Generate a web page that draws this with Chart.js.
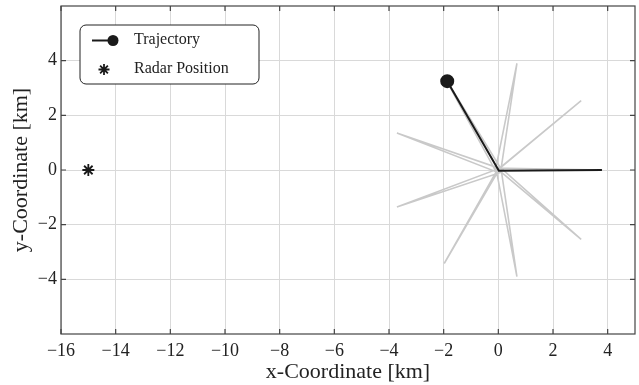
<!DOCTYPE html>
<html>
<head>
<meta charset="utf-8">
<script src="https://cdn.jsdelivr.net/npm/chart.js@4/dist/chart.umd.min.js"></script>
<style>
  body { margin: 0; background: #fff; }
  #wrap { width: 639px; height: 385px; position: relative; }
</style>
</head>
<body>
<div id="wrap"><canvas id="chart"></canvas></div>
<script>
// past path (grey spokes), km
const pastX = [3.80, 0.09, -1.98, -0.08, -1.98, 0.07, 3.03, -0.09, -3.71, 0.10, 0.68, -0.09, 0.68, 0.08, -3.71, 0.09, 3.03, -0.07, 3.80];
const pastY = [0.00, 0.06, 3.42, -0.07, -3.42, 0.09, 2.54, -0.06, 1.35, 0.04, -3.90, 0.07, 3.90, -0.09, -1.35, 0.08, -2.54, 0.07, 0.00];
// latest part of the trajectory (black), ends at current position
const trajX = [3.79, 0.02, -1.87];
const trajY = [0.00, -0.03, 3.25];
const radarX = [-15];
const radarY = [0];
const xTicks = [-16, -14, -12, -10, -8, -6, -4, -2, 0, 2, 4];
const yTicks = [-4, -2, 0, 2, 4];

const serif = "'Liberation Serif', 'DejaVu Serif', serif";
const pts = (xs, ys) => xs.map((x, i) => ({x: x, y: ys[i]}));
const fmt = (v) => v < 0 ? '\u2212' + Math.abs(v) : String(v);

// frame with inward ticks on all four sides
const framePlugin = {
    id: 'frame',
    afterDatasetsDraw(chart) {
        const ctx = chart.ctx;
        const a = chart.chartArea;
        const sx = chart.scales.x, sy = chart.scales.y;
        ctx.save();
        ctx.strokeStyle = '#444';
        ctx.lineWidth = 1.2;
        ctx.strokeRect(a.left, a.top, a.right - a.left, a.bottom - a.top);
        ctx.beginPath();
        xTicks.forEach((v) => {
            let px = sx.getPixelForValue(v);
            ctx.moveTo(px, a.bottom); ctx.lineTo(px, a.bottom - 5);
            ctx.moveTo(px, a.top); ctx.lineTo(px, a.top + 5);
        });
        yTicks.forEach((v) => {
            let py = sy.getPixelForValue(v);
            ctx.moveTo(a.left, py); ctx.lineTo(a.left + 5, py);
            ctx.moveTo(a.right, py); ctx.lineTo(a.right - 5, py);
        });
        ctx.stroke();
        ctx.restore();
    }
};

// legend box inside the plot, top left
const legendPlugin = {
    id: 'boxLegend',
    afterDraw(chart) {
        const ctx = chart.ctx;
        ctx.save();
        ctx.fillStyle = '#fff';
        ctx.strokeStyle = '#222';
        ctx.lineWidth = 1;
        ctx.beginPath();
        ctx.roundRect(80, 25, 179, 59, 6);
        ctx.fill();
        ctx.stroke();

        ctx.strokeStyle = '#1a1a1a';
        ctx.lineWidth = 2;
        ctx.beginPath();
        ctx.moveTo(92, 40.5); ctx.lineTo(113, 40.5);
        ctx.stroke();
        ctx.fillStyle = '#1a1a1a';
        ctx.beginPath();
        ctx.arc(113, 40.5, 5.5, 0, Math.PI * 2);
        ctx.fill();

        ctx.strokeStyle = '#1a1a1a';
        ctx.lineWidth = 1.8;
        Chart.helpers.drawPoint(ctx, {pointStyle: 'star', radius: 5.5, borderWidth: 1.8, rotation: 0}, 104, 69.5);

        ctx.fillStyle = '#222';
        ctx.font = '16px ' + serif;
        ctx.textBaseline = 'middle';
        ctx.fillText('Trajectory', 134, 40);
        ctx.fillText('Radar Position', 134, 69);
        ctx.restore();
    }
};

new Chart(document.getElementById('chart'), {
    type: 'scatter',
    data: {
        datasets: [
            {
                label: 'past',
                data: pts(pastX, pastY),
                showLine: true,
                borderColor: '#c9c9c9',
                borderWidth: 1.6,
                pointRadius: 0,
                tension: 0,
                order: 3
            },
            {
                label: 'Trajectory',
                data: pts(trajX, trajY),
                showLine: true,
                borderColor: '#1a1a1a',
                backgroundColor: '#1a1a1a',
                borderWidth: 2,
                pointRadius: [0, 0, 6],
                pointHoverRadius: 0,
                tension: 0,
                order: 2
            },
            {
                label: 'Radar Position',
                data: pts(radarX, radarY),
                pointStyle: 'star',
                pointRadius: 6,
                borderWidth: 1.8,
                borderColor: '#1a1a1a',
                backgroundColor: '#1a1a1a',
                order: 1
            }
        ]
    },
    options: {
        responsive: true,
        maintainAspectRatio: false,
        animation: false,
        events: [],
        layout: { autoPadding: false, padding: { top: 6, right: 4, left: 0, bottom: 0 } },
        plugins: {
            legend: { display: false },
            tooltip: { enabled: false }
        },
        scales: {
            x: {
                type: 'linear',
                min: -16,
                max: 5,
                afterBuildTicks: (s) => { s.ticks = xTicks.map((v) => ({value: v})); },
                afterFit: (s) => { s.height = 51; s.paddingLeft = 0; s.paddingRight = 0; },
                grid: { color: '#d9d9d9', lineWidth: 1, drawTicks: false },
                border: { display: false },
                ticks: {
                    padding: 6,
                    color: '#222',
                    font: { family: serif, size: 18 },
                    callback: fmt
                },
                title: {
                    display: true,
                    text: 'x-Coordinate [km]',
                    color: '#222',
                    font: { family: serif, size: 22 },
                    padding: { top: 0, bottom: 0 }
                }
            },
            y: {
                type: 'linear',
                min: -6,
                max: 6,
                afterBuildTicks: (s) => { s.ticks = yTicks.map((v) => ({value: v})); },
                afterFit: (s) => { s.width = 61; s.paddingTop = 0; s.paddingBottom = 0; },
                grid: { color: '#d9d9d9', lineWidth: 1, drawTicks: false },
                border: { display: false },
                ticks: {
                    padding: 4,
                    color: '#222',
                    font: { family: serif, size: 18 },
                    callback: fmt
                },
                title: {
                    display: true,
                    text: 'y-Coordinate [km]',
                    color: '#222',
                    font: { family: serif, size: 22 },
                    padding: { top: 8, bottom: 0 }
                }
            }
        }
    },
    plugins: [framePlugin, legendPlugin]
});
</script>
</body>
</html>
